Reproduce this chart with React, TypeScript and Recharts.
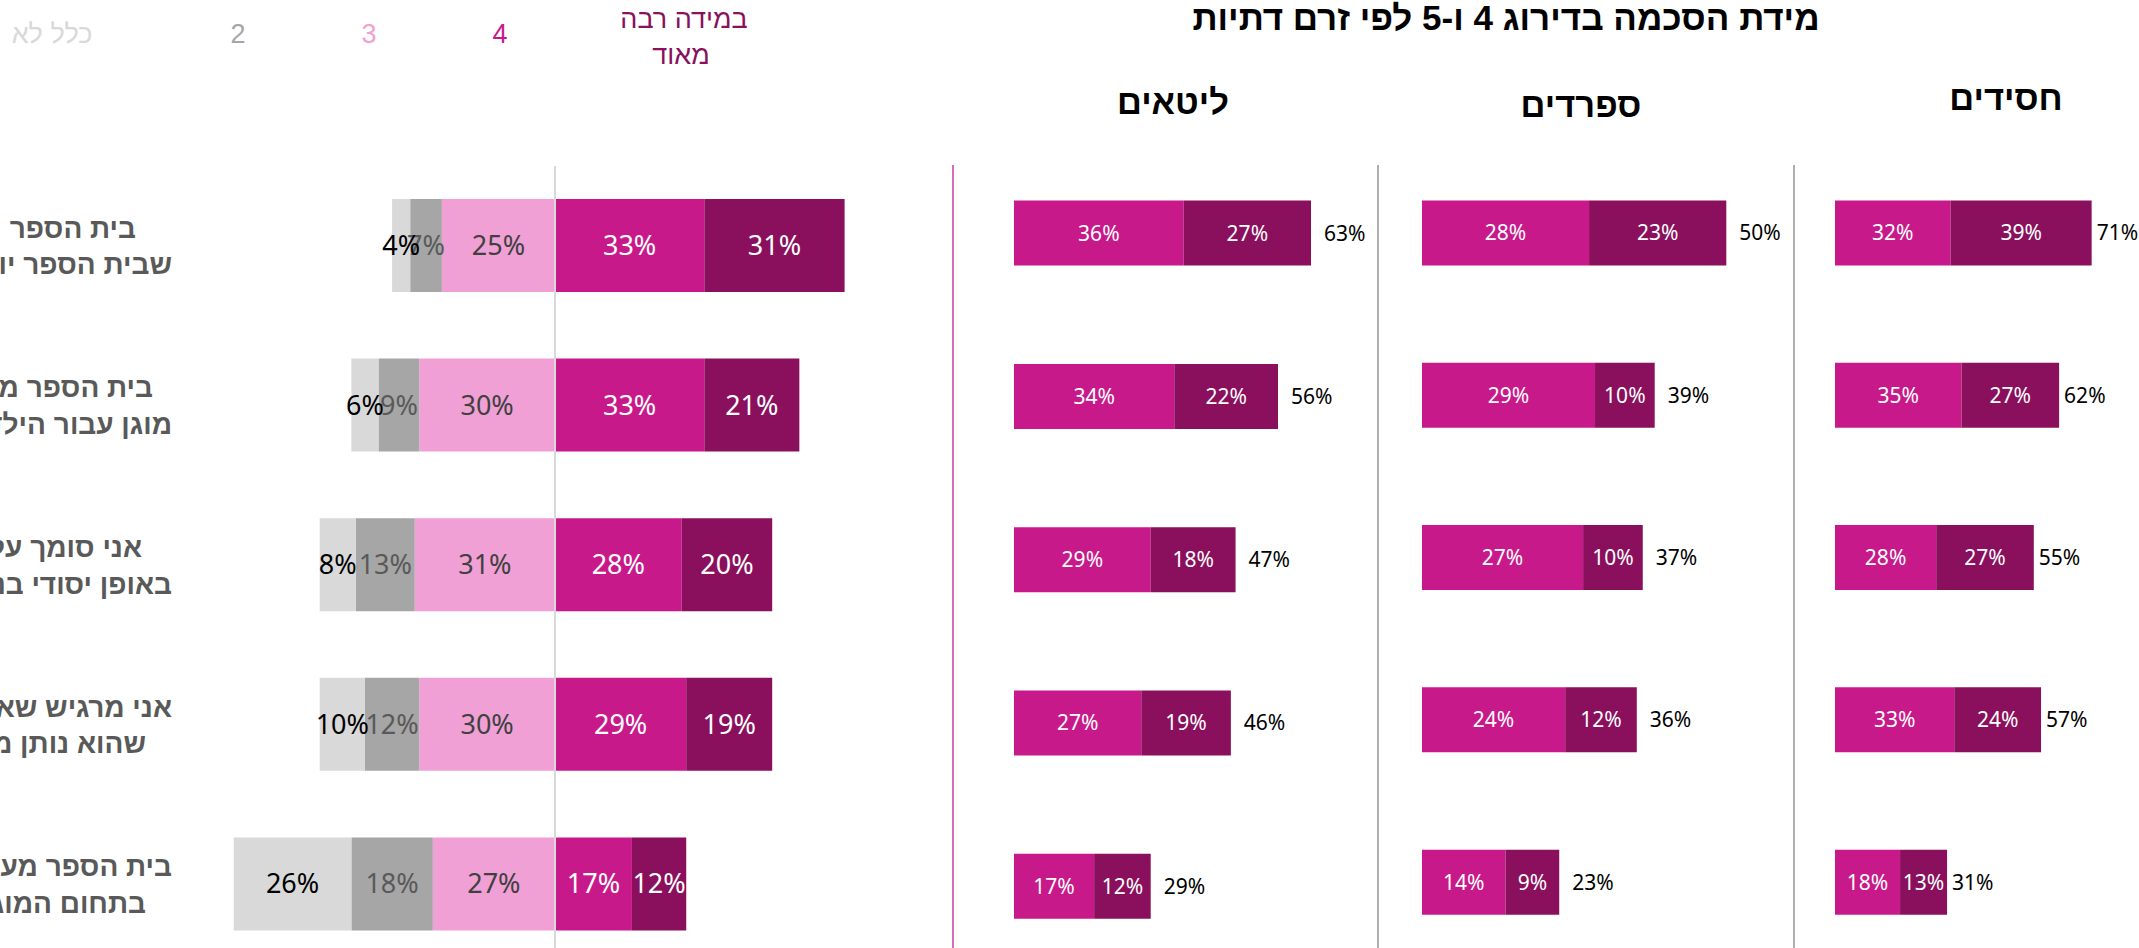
import React from 'react';
import { BarChart, Bar, XAxis, YAxis, LabelList, ReferenceLine } from 'recharts';

// ---------- data ----------
const title = 'מידת הסכמה בדירוג 4 ו-5 לפי זרם דתיות';
const scaleLabels = ['כלל לא', '2', '3', '4', 'במידה רבה', 'מאוד'];
const statements: string[][] = [
  ['בית הספר', 'שבית הספר יודע'],
  ['בית הספר מהווה מקום', 'מוגן עבור הילדים שלי'],
  ['אני סומך על בית הספר', 'באופן יסודי בנוגע'],
  ['אני מרגיש שאני יכול לפנות', 'שהוא נותן מענה'],
  ['בית הספר מעודכן ופועל', 'בתחום המוגנות'],
];
const notAtAll = [4, 6, 8, 10, 26];
const two = [7, 9, 13, 12, 18];
const three = [25, 30, 31, 30, 27];
const four = [33, 33, 28, 29, 17];
const veryMuch = [31, 21, 20, 19, 12];

const groupNames = ['ליטאים', 'ספרדים', 'חסידים'];
const litaimFour = [36, 34, 29, 27, 17];
const litaimFive = [27, 22, 18, 19, 12];
const litaimTotal = [63, 56, 47, 46, 29];
const sfaradimFour = [28, 29, 27, 24, 14];
const sfaradimFive = [23, 10, 10, 12, 9];
const sfaradimTotal = [50, 39, 37, 36, 23];
const chasidimFour = [32, 35, 28, 33, 18];
const chasidimFive = [39, 27, 27, 24, 13];
const chasidimTotal = [71, 62, 55, 57, 31];

// ---------- styles ----------
const C1 = '#d9d9d9';
const C2 = '#a6a6a6';
const C3 = '#f1a0d6';
const C4 = '#c8198b';
const C5 = '#8a0f5c';
const HEB = "'Liberation Sans', Arial, sans-serif";
const NUM = "'Noto Sans', 'Open Sans', sans-serif";

const leftData = statements.map((s, i) => ({
  cat: String(i),
  n3: -three[i],
  n2: -two[i],
  n1: -notAtAll[i],
  p4: four[i],
  p5: veryMuch[i],
  v1: notAtAll[i],
  v2: two[i],
  v3: three[i],
}));

const pct = (v: any) => `${v}%`;

// right edges of the (clipped) category label lines
const labelEdges = [
  [136, 172],
  [153, 172],
  [142, 172],
  [172, 146],
  [172, 146],
];

const StatementTick = (props: any) => {
  const { y, payload } = props;
  const i = Number(payload.value);
  const lines = statements[i];
  const e = labelEdges[i];
  return (
    <g>
      <text x={e[0]} y={y - 8} textAnchor="end" fontFamily={HEB} fontWeight="bold" fontSize={28} fill="#595959">
        {lines[0]}
      </text>
      <text x={e[1]} y={y + 28.5} textAnchor="end" fontFamily={HEB} fontWeight="bold" fontSize={28} fill="#595959">
        {lines[1]}
      </text>
    </g>
  );
};

const LeftChart = () => (
  <BarChart
    width={940}
    height={964}
    data={leftData}
    layout="vertical"
    stackOffset="sign"
    margin={{ top: 166, right: 23, bottom: 0, left: 0 }}
  >
    <XAxis type="number" domain={[-80, 80]} hide />
    <YAxis type="category" dataKey="cat" width={193} axisLine={false} tickLine={false} tick={<StatementTick />} interval={0} />
    <Bar dataKey="n3" stackId="s" fill={C3} barSize={93} isAnimationActive={false}>
      <LabelList dataKey="v3" position="center" formatter={pct} fill="#404040" fontSize={27} fontFamily={NUM} />
    </Bar>
    <Bar dataKey="n2" stackId="s" fill={C2} barSize={93} isAnimationActive={false}>
      <LabelList dataKey="v2" position="center" formatter={pct} fill="#595959" fontSize={27} fontFamily={NUM} />
    </Bar>
    <Bar dataKey="n1" stackId="s" fill={C1} barSize={93} isAnimationActive={false}>
      <LabelList dataKey="v1" position="center" formatter={pct} fill="#000000" fontSize={27} fontFamily={NUM} />
    </Bar>
    <Bar dataKey="p4" stackId="s" fill={C4} barSize={93} isAnimationActive={false}>
      <LabelList dataKey="p4" position="center" formatter={pct} fill="#ffffff" fontSize={27} fontFamily={NUM} />
    </Bar>
    <Bar dataKey="p5" stackId="s" fill={C5} barSize={93} isAnimationActive={false}>
      <LabelList dataKey="p5" position="center" formatter={pct} fill="#ffffff" fontSize={27} fontFamily={NUM} />
    </Bar>
    <ReferenceLine x={0} stroke="#d9d9d9" strokeWidth={2} />
  </BarChart>
);

type PanelProps = {
  a: number[];
  b: number[];
  t: number[];
  width: number;
  height: number;
  mLeft: number;
  mRight: number;
  mTop: number;
  max: number;
  totalOffset: number;
};

const Panel = ({ a, b, t, width, height, mLeft, mRight, mTop, max, totalOffset }: PanelProps) => {
  const data = a.map((v, i) => ({ cat: String(i), a: v, b: b[i], t: t[i] }));
  return (
    <BarChart
      width={width}
      height={height}
      data={data}
      layout="vertical"
      margin={{ top: mTop, right: mRight, bottom: 0, left: mLeft }}
    >
      <XAxis type="number" domain={[0, max]} hide />
      <YAxis type="category" dataKey="cat" hide width={0} />
      <Bar dataKey="a" stackId="s" fill={C4} barSize={65} isAnimationActive={false}>
        <LabelList dataKey="a" position="center" formatter={pct} fill="#ffffff" fontSize={21} fontFamily={NUM} />
      </Bar>
      <Bar dataKey="b" stackId="s" fill={C5} barSize={65} isAnimationActive={false}>
        <LabelList dataKey="b" position="center" formatter={pct} fill="#ffffff" fontSize={21} fontFamily={NUM} />
        <LabelList dataKey="t" position="right" offset={totalOffset} formatter={pct} fill="#000000" fontSize={21} fontFamily={NUM} />
      </Bar>
    </BarChart>
  );
};

const abs = (l: number, t: number, extra: React.CSSProperties = {}): React.CSSProperties => ({
  position: 'absolute',
  left: l,
  top: t,
  ...extra,
});

const legendColors = [C1, C2, C3, C4, C5, C5];
const legendPos = [
  [52, 18],
  [238, 18],
  [369, 18],
  [500, 18],
  [684, 3],
  [681, 39],
];

export default function App() {
  return (
    <div style={{ position: 'absolute', left: 0, top: 0, width: 2139, height: 948, overflow: 'hidden', background: '#fff' }}>
      <div style={abs(0, 0)}>
        <LeftChart />
      </div>

      {scaleLabels.map((s, i) => (
        <div
          key={i}
          style={abs(legendPos[i][0], legendPos[i][1], {
            transform: 'translateX(-50%)',
            whiteSpace: 'nowrap',
            fontFamily: HEB,
            fontSize: 27,
            lineHeight: '32px',
            color: legendColors[i],
            direction: 'rtl',
          })}
        >
          {s}
        </div>
      ))}

      <div style={abs(1506, -3, { transform: 'translateX(-50%)', whiteSpace: 'nowrap', fontFamily: HEB, fontWeight: 'bold', fontSize: 35, lineHeight: '42px', color: '#000', direction: 'rtl' })}>
        {title}
      </div>
      {[1173, 1581, 2006].map((cx, i) => (
        <div
          key={i}
          style={abs(cx, [82, 85, 78][i], { transform: 'translateX(-50%)', whiteSpace: 'nowrap', fontFamily: HEB, fontWeight: 'bold', fontSize: 34.5, lineHeight: '40px', color: '#000', direction: 'rtl' })}
        >
          {groupNames[i]}
        </div>
      ))}

      <div style={abs(952, 165, { width: 2, height: 783, background: '#d86cb8' })} />
      <div style={abs(1377, 165, { width: 2, height: 783, background: '#b0b0b0' })} />
      <div style={abs(1793, 165, { width: 2, height: 783, background: '#b0b0b0' })} />

      <div style={abs(953, 0)}>
        <Panel a={litaimFour} b={litaimFive} t={litaimTotal} width={420} height={968} mLeft={61} mRight={29} mTop={151.6} max={70} totalOffset={13} />
      </div>
      <div style={abs(1378, 0)}>
        <Panel a={sfaradimFour} b={sfaradimFive} t={sfaradimTotal} width={410} height={963} mLeft={44} mRight={8} mTop={151.4} max={60} totalOffset={13} />
      </div>
      <div style={abs(1794, 0)}>
        <Panel a={chasidimFour} b={chasidimFive} t={chasidimTotal} width={345} height={963} mLeft={41} mRight={0} mTop={151.4} max={84.1} totalOffset={5} />
      </div>
    </div>
  );
}
